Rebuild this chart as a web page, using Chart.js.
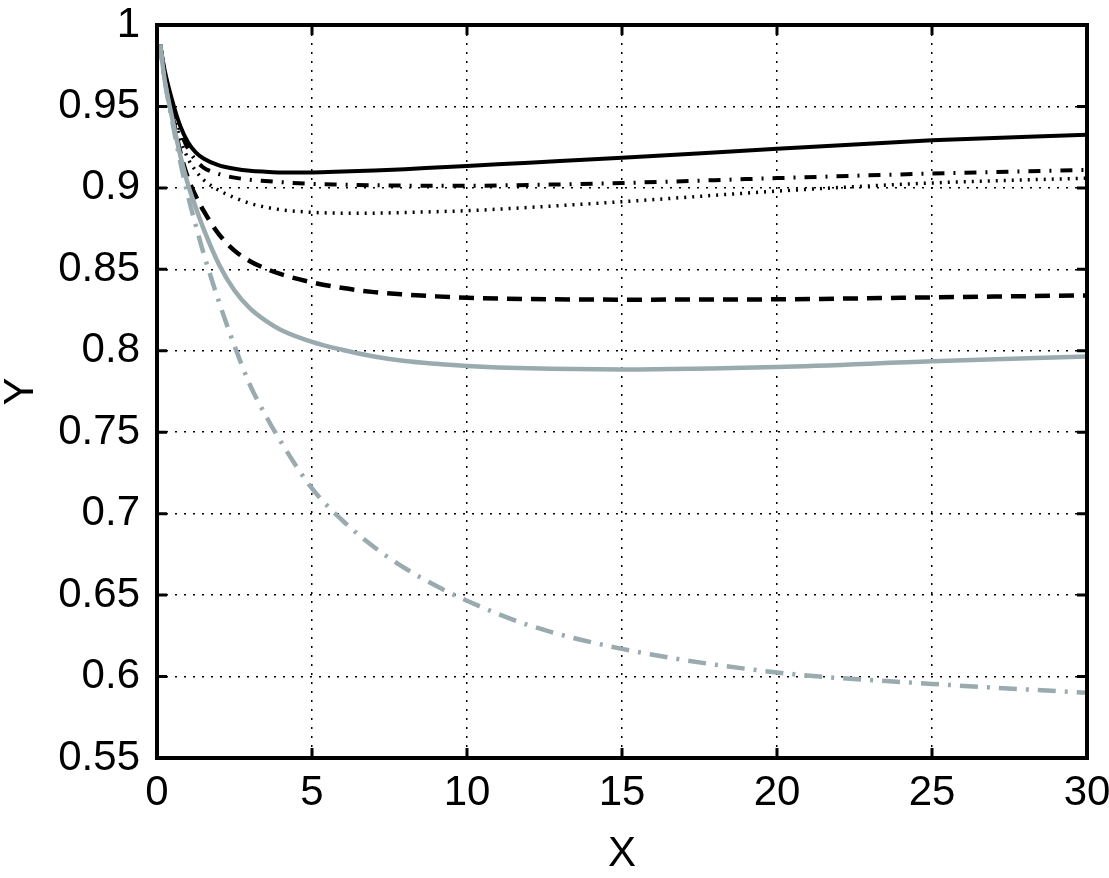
<!DOCTYPE html>
<html>
<head>
<meta charset="utf-8">
<script src="https://cdn.jsdelivr.net/npm/chart.js@4/dist/chart.umd.min.js"></script>
<style>
    html, body { margin: 0; padding: 0; background: #fff; }
    #wrap { width: 1109px; height: 878px; }
</style>
</head>
<body>
<div id="wrap"><canvas id="grafica"></canvas></div>
<script>
const xValues = [0.1, 0.25, 0.5, 0.75, 1, 1.25, 1.5, 2, 2.5, 3, 3.5, 4, 5, 6, 7, 8, 9, 10, 12, 15, 20, 25, 30];

const negroSolido    = [0.988, 0.972, 0.953, 0.938, 0.928, 0.9218, 0.918, 0.9138, 0.9118, 0.9105, 0.9099, 0.9095, 0.9095, 0.910, 0.9107, 0.9115, 0.9125, 0.9135, 0.9155, 0.9185, 0.924, 0.9292, 0.9326];
const negroPuntoRaya = [0.988, 0.971, 0.951, 0.935, 0.924, 0.917, 0.9125, 0.9085, 0.9063, 0.905, 0.9042, 0.9035, 0.9025, 0.902, 0.9016, 0.9014, 0.9013, 0.9013, 0.9018, 0.903, 0.906, 0.9088, 0.911];
const negroPunteado  = [0.988, 0.970, 0.948, 0.930, 0.918, 0.9105, 0.905, 0.8985, 0.894, 0.8905, 0.8882, 0.8866, 0.885, 0.8845, 0.8845, 0.8849, 0.8854, 0.886, 0.888, 0.8915, 0.898, 0.903, 0.906];
const negroRayado    = [0.988, 0.968, 0.944, 0.922, 0.906, 0.895, 0.886, 0.8715, 0.8615, 0.855, 0.8505, 0.847, 0.842, 0.8385, 0.836, 0.8345, 0.8334, 0.8326, 0.8318, 0.8314, 0.8316, 0.8328, 0.834];
const grisSolido     = [0.988, 0.966, 0.942, 0.920, 0.902, 0.888, 0.875, 0.853, 0.837, 0.826, 0.8185, 0.8128, 0.8055, 0.8005, 0.7965, 0.7937, 0.792, 0.7907, 0.7892, 0.7885, 0.790, 0.7935, 0.7965];
const grisPuntoRaya  = [0.988, 0.966, 0.940, 0.916, 0.895, 0.877, 0.860, 0.830, 0.803, 0.779, 0.7605, 0.744, 0.7155, 0.6955, 0.6795, 0.6665, 0.6557, 0.6465, 0.6315, 0.617, 0.6025, 0.5955, 0.590];

const xTicks = [0, 5, 10, 15, 20, 25, 30];
const yTicks = [0.55, 0.6, 0.65, 0.7, 0.75, 0.8, 0.85, 0.9, 0.95, 1];
const yLabels = ['0.55', '0.6', '0.65', '0.7', '0.75', '0.8', '0.85', '0.9', '0.95', '1'];

const GRIS = 'rgb(154, 171, 176)';
const fuente = { family: '"Liberation Sans", Arial, Helvetica, sans-serif', size: 42 };

function serie(values, color, width, dash) {
    return {
        data: xValues.map((x, i) => ({ x: x, y: values[i] })),
        borderColor: color,
        borderWidth: width,
        borderDash: dash,
        pointRadius: 0,
        fill: false,
        showLine: true,
        cubicInterpolationMode: 'monotone'
    };
}

// marco y marcas hacia adentro, como en la figura original
const marco = {
    id: 'marco',
    afterDraw(chart) {
        const { ctx, chartArea: a, scales } = chart;
        const largo = 10;
        ctx.save();
        ctx.strokeStyle = '#000';
        ctx.lineWidth = 3;
        ctx.setLineDash([]);
        ctx.beginPath();
        xTicks.forEach(v => {
            const px = scales.x.getPixelForValue(v);
            ctx.moveTo(px, a.bottom); ctx.lineTo(px, a.bottom - largo);
            ctx.moveTo(px, a.top); ctx.lineTo(px, a.top + largo);
        });
        yTicks.forEach(v => {
            const py = scales.y.getPixelForValue(v);
            ctx.moveTo(a.left, py); ctx.lineTo(a.left + largo, py);
            ctx.moveTo(a.right, py); ctx.lineTo(a.right - largo, py);
        });
        ctx.stroke();
        ctx.lineWidth = 4;
        ctx.strokeRect(a.left, a.top, a.right - a.left, a.bottom - a.top);
        ctx.restore();
    }
};

const graficaCtx = document.getElementById('grafica').getContext('2d');

new Chart(graficaCtx, {
    type: 'scatter',
    data: {
        datasets: [
            serie(grisPuntoRaya, GRIS, 4.5, [18, 9, 3, 9]),
            serie(grisSolido, GRIS, 4.5, []),
            serie(negroRayado, '#000', 4.5, [15, 9]),
            serie(negroPunteado, '#000', 3.5, [2, 6]),
            serie(negroPuntoRaya, '#000', 4, [12, 9, 2, 9]),
            serie(negroSolido, '#000', 4, [])
        ]
    },
    options: {
        responsive: true,
        maintainAspectRatio: false,
        animation: false,
        layout: { padding: { left: 0, top: 25, right: 22, bottom: 0 } },
        plugins: {
            legend: { display: false },
            tooltip: { enabled: false }
        },
        scales: {
            x: {
                type: 'linear',
                min: 0,
                max: 30,
                afterBuildTicks: scale => { scale.ticks = xTicks.map(v => ({ value: v })); },
                afterFit: scale => {
                    scale.height = 120;
                    scale.paddingLeft = 0;
                    scale.paddingRight = 0;
                },
                ticks: { color: '#000', font: fuente, padding: 10, maxRotation: 0 },
                grid: { color: '#000', lineWidth: 1.5, drawTicks: false },
                border: { display: false, dash: [2, 7] },
                title: { display: true, text: 'X', color: '#000', font: { ...fuente, lineHeight: 1 }, padding: { top: 0, bottom: 3 } }
            },
            y: {
                type: 'linear',
                min: 0.55,
                max: 1,
                afterBuildTicks: scale => { scale.ticks = yTicks.map(v => ({ value: v })); },
                afterFit: scale => {
                    scale.width = 157;
                    scale.paddingTop = 0;
                    scale.paddingBottom = 0;
                },
                ticks: {
                    color: '#000',
                    font: fuente,
                    padding: 17,
                    callback: (value, index) => yLabels[index]
                },
                grid: { color: '#000', lineWidth: 1.5, drawTicks: false },
                border: { display: false, dash: [2, 7] },
                title: { display: true, text: 'Y', color: '#000', font: { ...fuente, lineHeight: 1 }, padding: { top: 0, bottom: 0 } }
            }
        }
    },
    plugins: [marco]
});
</script>
</body>
</html>
